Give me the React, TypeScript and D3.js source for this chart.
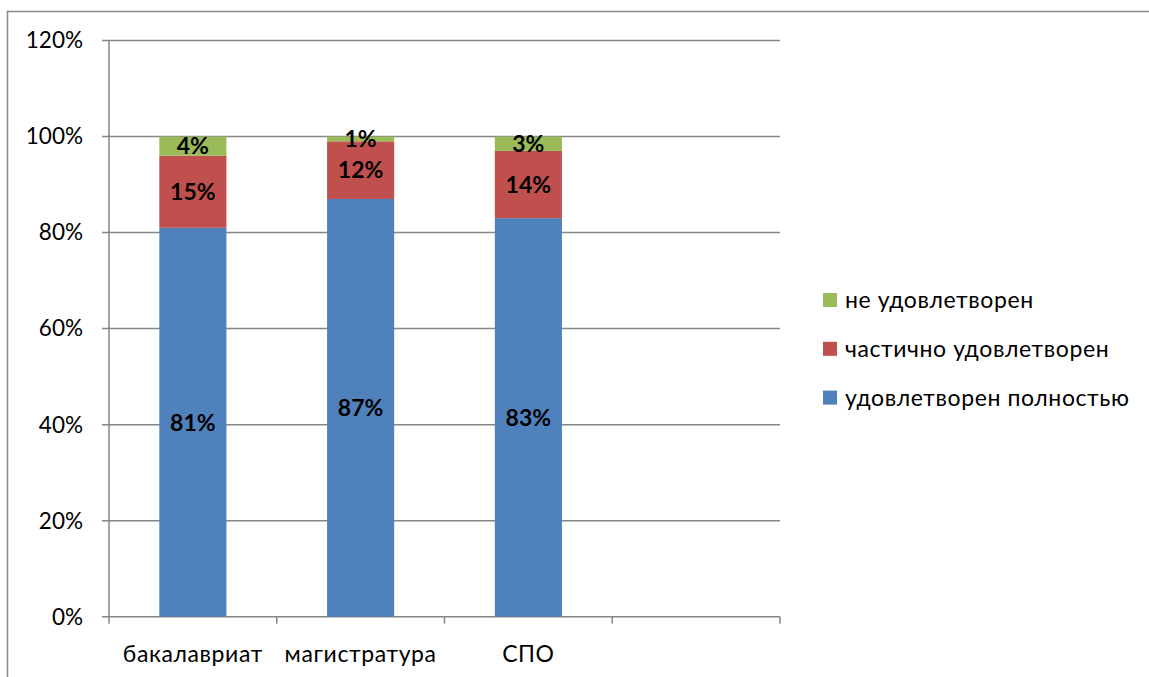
import React from 'react';
import * as d3 from 'd3';

const categories = ['бакалавриат', 'магистратура', 'СПО', ''];
const seriesNames = ['удовлетворен полностью', 'частично удовлетворен', 'не удовлетворен'];
const seriesColors = ['#4F81BD', '#C0504D', '#9BBB59'];
const fullValues = [81, 87, 83];
const partialValues = [15, 12, 14];
const notValues = [4, 1, 3];
const yTicks = [0, 20, 40, 60, 80, 100, 120];

const W = 1149;
const H = 677;
const font = 'Lato, "Open Sans", sans-serif';

const App: React.FC = () => {
  const left = 109;
  const right = 780;
  const top = 40.5;
  const bottom = 616.7;

  const x = d3.scaleBand<string>().domain(categories.map((c, i) => String(i))).range([left, right]);
  const y = d3.scaleLinear().domain([0, 120]).range([bottom, top]);
  const barW = x.bandwidth() * 0.4;

  const rows = fullValues.map((v, i) => ({ i, vals: [v, partialValues[i], notValues[i]] }));
  const stack = d3.stack<{ i: number; vals: number[] }, number>()
    .keys([0, 1, 2])
    .value((d, k) => d.vals[k]);
  const layers = stack(rows);

  const axisColor = '#868686';

  return (
    <svg width={W} height={H} style={{ position: 'absolute', left: 0, top: 0, background: '#fff' }}>
      {/* outer chart frame */}
      <rect x={7.5} y={11.5} width={W} height={H} fill="none" stroke="#898989" strokeWidth={1.5} />

      {yTicks.map(t => (
        <g key={t}>
          <line x1={left - 7} x2={right} y1={y(t)} y2={y(t)} stroke={axisColor} strokeWidth={1.5} />
          <text x={83} y={y(t)} dy="0.35em" textAnchor="end" fontFamily={font} fontSize={22.5} fill="#000">
            {t}%
          </text>
        </g>
      ))}
      <line x1={left} x2={left} y1={top} y2={bottom} stroke={axisColor} strokeWidth={1.5} />

      {d3.range(categories.length + 1).map(i => {
        const xx = left + i * x.step();
        return <line key={i} x1={xx} x2={xx} y1={bottom} y2={bottom + 7} stroke={axisColor} strokeWidth={1.5} />;
      })}

      {layers.map((layer, k) =>
        layer.map((seg, j) => {
          const bx = (x(String(j)) as number) + (x.bandwidth() - barW) / 2;
          const y0 = y(seg[0]);
          const y1 = y(seg[1]);
          return (
            <g key={`${k}-${j}`}>
              <rect x={bx} y={y1} width={barW} height={y0 - y1} fill={seriesColors[k]} />
              <text
                x={bx + barW / 2}
                y={(y0 + y1) / 2}
                dy="0.36em"
                textAnchor="middle"
                fontFamily={font}
                fontWeight="bold"
                fontSize={23}
                fill="#000"
              >
                {rows[j].vals[k]}%
              </text>
            </g>
          );
        })
      )}

      {categories.map((c, i) => (
        <text
          key={i}
          x={(x(String(i)) as number) + x.bandwidth() / 2}
          y={654}
          dy="0.35em"
          textAnchor="middle"
          fontFamily={font}
          fontSize={23}
          letterSpacing={0.6}
          fill="#000"
        >
          {c}
        </text>
      ))}

      {[2, 1, 0].map((k, r) => {
        const ly = 300 + r * 48.8;
        return (
          <g key={k}>
            <rect x={823} y={ly - 7} width={14} height={14} fill={seriesColors[k]} />
            <text x={845} y={ly} dy="0.35em" fontFamily={font} fontSize={23} letterSpacing={0.6} fill="#000">
              {seriesNames[k]}
            </text>
          </g>
        );
      })}
    </svg>
  );
};

export default App;
